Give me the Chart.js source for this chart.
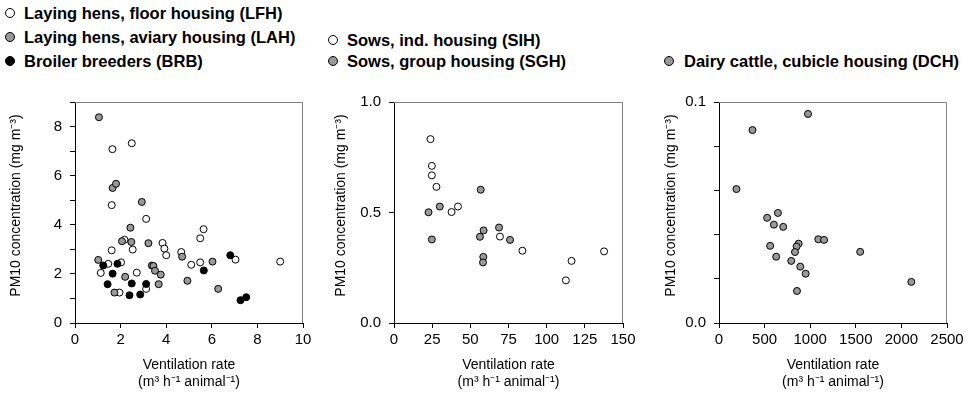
<!DOCTYPE html>
<html>
<head>
<meta charset="utf-8">
<script src="https://cdn.jsdelivr.net/npm/chart.js@4/dist/chart.umd.min.js"></script>
<style>
  html, body { margin: 0; padding: 0; background: #fff; }
  body { width: 969px; height: 395px; overflow: hidden; position: relative;
         font-family: "Liberation Sans", Arial, sans-serif; color: #000; }
  .panel { position: absolute; top: 85px; height: 310px; }
  .lg { position: absolute; white-space: nowrap; font-weight: bold; font-size: 16.5px;
        line-height: 1; transform: translateY(-50%); }
  .dot { position: absolute; width: 10px; height: 10px; border: 1px solid #000;
         border-radius: 50%; box-sizing: border-box; transform: translateY(-50%); }
</style>
</head>
<body>

<span class="dot" style="left:5px;top:13px;background:#fff"></span>
<div class="lg" style="left:24px;top:13px">Laying hens, floor housing (LFH)</div>
<span class="dot" style="left:5px;top:37px;background:#999"></span>
<div class="lg" style="left:24px;top:37px">Laying hens, aviary housing (LAH)</div>
<span class="dot" style="left:5px;top:61px;background:#000"></span>
<div class="lg" style="left:24px;top:61px">Broiler breeders (BRB)</div>
<span class="dot" style="left:328px;top:40px;background:#fff"></span>
<div class="lg" style="left:347px;top:40px">Sows, ind. housing (SIH)</div>
<span class="dot" style="left:328px;top:61px;background:#999"></span>
<div class="lg" style="left:347px;top:61px">Sows, group housing (SGH)</div>
<span class="dot" style="left:664px;top:61px;background:#999"></span>
<div class="lg" style="left:684px;top:61px">Dairy cattle, cubicle housing (DCH)</div>

<div class="panel" style="left:0;width:320px"><canvas id="poultry" width="320" height="310"></canvas></div>
<div class="panel" style="left:320px;width:320px"><canvas id="sows" width="320" height="310"></canvas></div>
<div class="panel" style="left:640px;width:329px"><canvas id="cattle" width="329" height="310"></canvas></div>

<script>
// Ventilation rate (m3 h-1 animal-1) and PM10 concentration (mg m-3)

// Laying hens, floor housing
const lfhVent = [1.64, 2.49, 1.61, 3.12, 1.61, 5.64, 5.49, 3.84, 3.92, 4.00, 2.53, 2.17,
                 4.66, 2.02, 1.46, 1.13, 2.71, 5.10, 5.49, 7.04, 9.00, 1.95, 3.12];
const lfhPm   = [7.08, 7.32, 4.80, 4.24, 2.96, 3.82, 3.45, 3.26, 3.03, 2.76, 2.99, 3.39,
                 2.89, 2.47, 2.41, 2.04, 2.05, 2.37, 2.47, 2.58, 2.50, 1.24, 1.39];

// Laying hens, aviary housing
const lahVent = [1.05, 1.02, 1.65, 1.80, 2.93, 2.43, 2.06, 2.47, 3.22, 3.37, 3.44, 3.51,
                 3.76, 3.67, 2.20, 1.73, 4.70, 4.93, 6.03, 6.28];
const lahPm   = [8.38, 2.57, 5.50, 5.67, 4.93, 3.88, 3.33, 3.30, 3.25, 2.34, 2.32, 2.13,
                 1.97, 1.58, 1.88, 1.24, 2.70, 1.72, 2.50, 1.39];

// Broiler breeders
const brbVent = [1.24, 1.43, 1.65, 1.86, 2.39, 2.49, 2.86, 3.12, 5.65, 6.81, 7.26, 7.51];
const brbPm   = [2.34, 1.58, 2.01, 2.41, 1.13, 1.61, 1.16, 1.59, 2.14, 2.76, 0.93, 1.05];

// Sows, individual housing
const sihVent = [23.9, 24.8, 24.8, 27.8, 37.7, 41.9, 69.4, 84.1, 112.6, 116.3, 137.6];
const sihPm   = [0.832, 0.711, 0.668, 0.616, 0.502, 0.527, 0.391, 0.327, 0.193, 0.281, 0.324];

// Sows, group housing
const sghVent = [22.6, 30.0, 24.8, 56.8, 58.7, 56.3, 68.8, 76.0, 58.5, 58.3];
const sghPm   = [0.501, 0.527, 0.378, 0.603, 0.419, 0.390, 0.432, 0.376, 0.299, 0.274];

// Dairy cattle, cubicle housing
const dchVent = [976, 367, 191, 646, 528, 602, 704, 1089, 1152, 873, 851, 561, 833,
                 1548, 627, 792, 891, 950, 2109, 855];
const dchPm   = [0.0946, 0.0873, 0.0606, 0.0498, 0.0476, 0.0445, 0.0435, 0.0379, 0.0376,
                 0.0359, 0.0346, 0.0349, 0.0321, 0.0322, 0.0300, 0.0281, 0.0255, 0.0223,
                 0.0186, 0.0145];

// Labelled y ticks (the others are drawn as bare tick marks)
const poultryYLabels = [0, 2, 4, 6, 8];
const sowsYLabels = [0.0, 0.5, 1.0];
const cattleYLabels = [0.0, 0.1];

// the leading en spaces lift the rotated title a little above the axis centre
const yTitle = '\u2002\u2002PM10 concentration (mg m\u207B\u00B3)';
const xTitle = ['Ventilation rate', '(m\u00B3 h\u207B\u00B9 animal\u207B\u00B9)'];

const WHITE = '#ffffff', GREY = '#999999', BLACK = '#000000';

function points(xs, ys) {
  return xs.map((x, i) => ({ x: x, y: ys[i] }));
}

function series(label, xs, ys, fill) {
  return {
    label: label,
    data: points(xs, ys),
    backgroundColor: fill,
    borderColor: BLACK,
    borderWidth: 1,
    pointRadius: 3.5,
    pointHoverRadius: 3.5
  };
}

// light grey top and right edges of the plot box
const boxEdges = {
  id: 'boxEdges',
  beforeDatasetsDraw(chart) {
    const a = chart.chartArea, ctx = chart.ctx;
    ctx.save();
    ctx.strokeStyle = '#808080';
    ctx.lineWidth = 1;
    ctx.beginPath();
    ctx.moveTo(a.left, a.top + 0.5);
    ctx.lineTo(a.right - 0.5, a.top + 0.5);
    ctx.lineTo(a.right - 0.5, a.bottom);
    ctx.stroke();
    ctx.restore();
  }
};

function labelFrom(list, digits) {
  return function (v) {
    const hit = list.find(t => Math.abs(t - v) < 1e-9);
    return hit === undefined ? '' : hit.toFixed(digits);
  };
}

function scatterPanel(id, datasets, xr, yr, box) {
  const tickFont = { family: '"Liberation Sans", Arial, sans-serif', size: 15 };
  const titleFont = { family: '"Liberation Sans", Arial, sans-serif', size: 14, lineHeight: 1.25 };
  const axisGrid = { display: true, drawOnChartArea: false, drawTicks: true, tickLength: 5,
                     color: BLACK, lineWidth: 1 };
  return new Chart(document.getElementById(id), {
    type: 'scatter',
    data: { datasets: datasets },
    plugins: [boxEdges],
    options: {
      responsive: false,
      animation: false,
      events: [],
      layout: { padding: { top: 10, right: box.right, left: 0, bottom: 0 } },
      plugins: { legend: { display: false }, tooltip: { enabled: false } },
      scales: {
        x: {
          type: 'linear', min: xr.min, max: xr.max,
          ticks: { stepSize: xr.step, autoSkip: false, maxRotation: 0, color: BLACK,
                   font: tickFont, padding: 3, callback: v => String(v) },
          grid: axisGrid,
          border: { display: true, color: BLACK, width: 1 },
          title: { display: true, text: xTitle, color: BLACK, font: titleFont,
                   padding: { top: 0, bottom: 4 } },
          afterFit(s) { s.height = 72; }
        },
        y: {
          type: 'linear', min: yr.min, max: yr.max,
          ticks: { stepSize: yr.step, autoSkip: false, color: BLACK, font: tickFont,
                   padding: 8, callback: labelFrom(yr.labels, yr.digits) },
          grid: axisGrid,
          border: { display: true, color: BLACK, width: 1 },
          title: { display: true, text: yTitle, color: BLACK, font: titleFont,
                   padding: { top: box.titlePad, bottom: 0 } },
          afterFit(s) { s.width = box.left; }
        }
      }
    }
  });
}

scatterPanel('poultry', [
  series('Broiler breeders (BRB)', brbVent, brbPm, BLACK),
  series('Laying hens, aviary housing (LAH)', lahVent, lahPm, GREY),
  series('Laying hens, floor housing (LFH)', lfhVent, lfhPm, WHITE)
], { min: 0, max: 10, step: 2 },
   { min: 0, max: 9, step: 1, labels: poultryYLabels, digits: 0 },
   { left: 75, right: 17, titlePad: 7 });

scatterPanel('sows', [
  series('Sows, group housing (SGH)', sghVent, sghPm, GREY),
  series('Sows, ind. housing (SIH)', sihVent, sihPm, WHITE)
], { min: 0, max: 150, step: 25 },
   { min: 0, max: 1, step: 0.5, labels: sowsYLabels, digits: 1 },
   { left: 74, right: 17, titlePad: 12 });

scatterPanel('cattle', [
  series('Dairy cattle, cubicle housing (DCH)', dchVent, dchPm, GREY)
], { min: 0, max: 2500, step: 500 },
   { min: 0, max: 0.1, step: 0.02, labels: cattleYLabels, digits: 1 },
   { left: 79, right: 22, titlePad: 22 });
</script>
</body>
</html>
